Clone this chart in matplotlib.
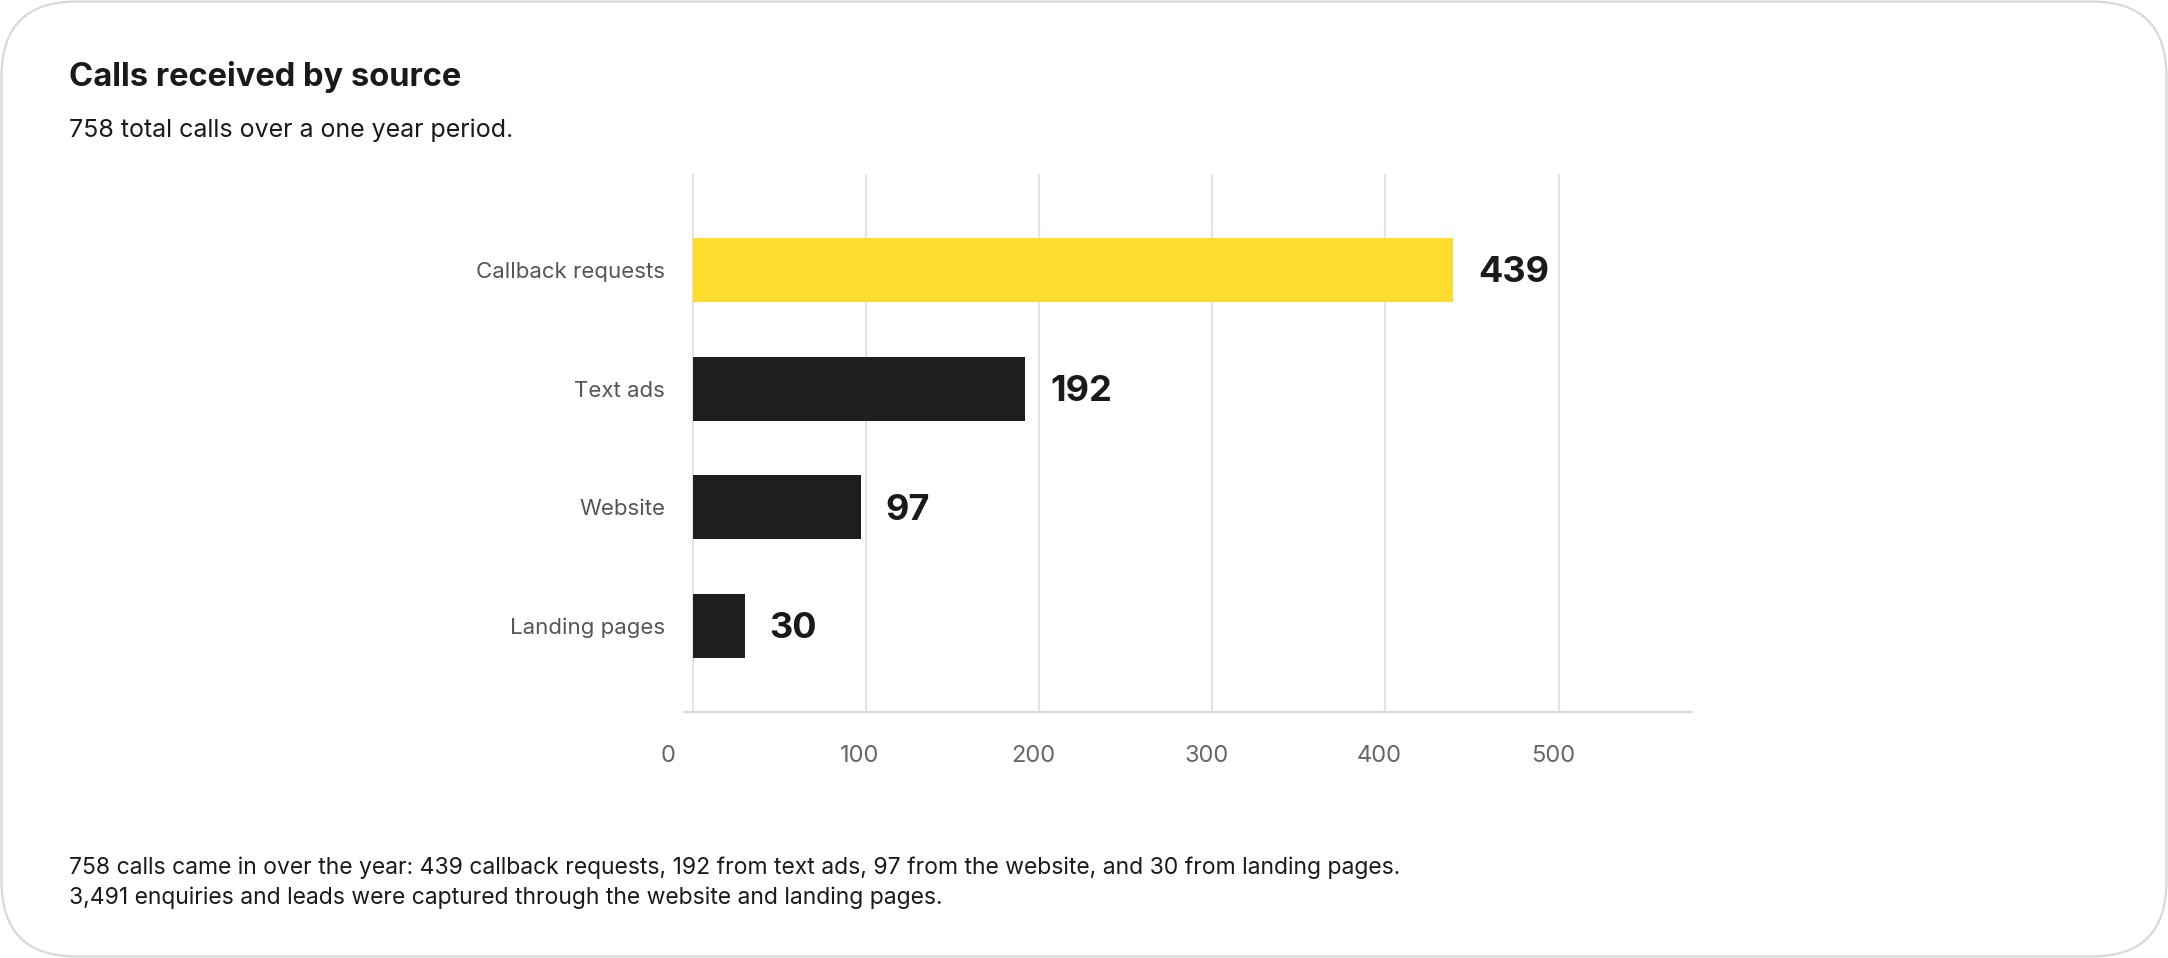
import matplotlib
matplotlib.use("Agg")
import matplotlib.pyplot as plt
import matplotlib.patches as mpatches
import matplotlib.transforms as mtransforms

# ── Data ──────────────────────────────────────────────────────────────────────
categories = ["Callback requests", "Text ads", "Website", "Landing pages"]
calls = [439, 192, 97, 30]
bar_colors = ["#FFDD2E", "#1E1E1E", "#1E1E1E", "#1E1E1E"]
x_ticks = [0, 100, 200, 300, 400, 500]

TITLE = "Calls received by source"
SUBTITLE = "758 total calls over a one year period."
NOTE1 = ("758 calls came in over the year: 439 callback requests, 192 from text ads, "
         "97 from the website, and 30 from landing pages.")
NOTE2 = "3,491 enquiries and leads were captured through the website and landing pages."

W, H, DPI = 2168, 958, 100
FONT = ["Inter", "DejaVu Sans"]
plt.rcParams["font.family"] = FONT


def fx(px):
    return px / W


def fy(px):
    return 1 - px / H


fig = plt.figure(figsize=(W / DPI, H / DPI), dpi=DPI)
fig.patch.set_facecolor("white")

# ── Card outline ──────────────────────────────────────────────────────────────
card = mpatches.FancyBboxPatch(
    (1.5, 1.5), W - 3, H - 3,
    boxstyle="round,pad=0,rounding_size=75",
    fc="white", ec="#D9D9D9", lw=1.6,
    transform=mtransforms.IdentityTransform(), zorder=0,
)
fig.add_artist(card)

# ── Header / footer text ──────────────────────────────────────────────────────
fig.text(fx(69), fy(86), TITLE, ha="left", va="baseline",
         fontsize=23.5, fontweight="bold", color="#1A1A1A")
fig.text(fx(69), fy(137), SUBTITLE, ha="left", va="baseline",
         fontsize=18, color="#1A1A1A")
fig.text(fx(69), fy(874), NOTE1, ha="left", va="baseline",
         fontsize=16.5, color="#1A1A1A")
fig.text(fx(69), fy(904), NOTE2, ha="left", va="baseline",
         fontsize=16.5, color="#1A1A1A")

# ── Bar chart ─────────────────────────────────────────────────────────────────
ax = fig.add_axes([fx(684), fy(712), fx(1692) - fx(684), fy(174) - fy(712)])
ax.set_facecolor("none")

y = list(range(len(categories)))
bars = ax.barh(y, calls, color=bar_colors, height=0.54, zorder=3)

ax.set_xlim(-5, 577)
ax.set_ylim(3.725, -0.81)
ax.set_xticks(x_ticks)
ax.set_xticklabels([str(t) for t in x_ticks])
ax.set_yticks(y)
ax.set_yticklabels(categories)

ax.grid(axis="x", color="#E3E3E3", lw=1.5, zorder=0)
ax.set_axisbelow(True)
for side in ["top", "right", "left"]:
    ax.spines[side].set_visible(False)
ax.spines["bottom"].set_color("#D9D9D9")
ax.spines["bottom"].set_linewidth(1.6)

ax.tick_params(axis="x", length=0, pad=24, labelsize=17, labelcolor="#666666")
ax.tick_params(axis="y", length=0, pad=13.5, labelsize=16, labelcolor="#555555")

# tick labels sit a little left of their grid lines, the zero more so
for t, lab in zip(x_ticks, ax.get_xticklabels()):
    dx = -25 if t == 0 else -6
    off = mtransforms.ScaledTranslation(dx / DPI, 0, fig.dpi_scale_trans)
    lab.set_transform(lab.get_transform() + off)

for bar, val in zip(bars, calls):
    ax.annotate(f"{val}", (bar.get_width(), bar.get_y() + bar.get_height() / 2),
                xytext=(18, -2), textcoords="offset points",
                ha="left", va="center", fontsize=26, fontweight="bold",
                color="#1A1A1A", zorder=5)

fig.savefig("out.png", dpi=DPI, facecolor="white")
